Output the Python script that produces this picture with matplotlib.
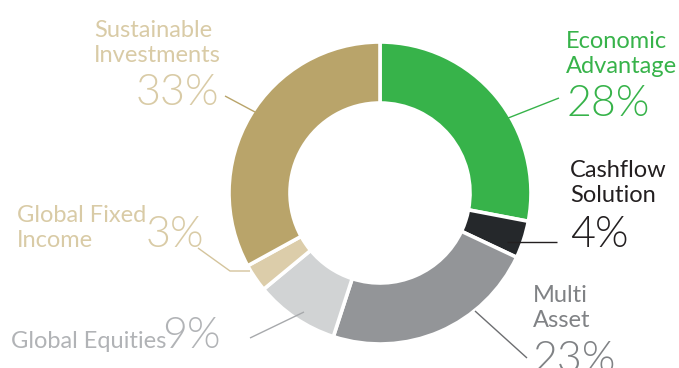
#!/usr/bin/env python3
import matplotlib
matplotlib.use("Agg")
import matplotlib.pyplot as plt

# ---------- data ----------
NAMES   = ["Economic\nAdvantage", "Cashflow\nSolution", "Multi\nAsset",
           "Global Equities", "Global Fixed\nIncome", "Sustainable\nInvestments"]
SHARES  = [28, 4, 23, 9, 3, 33]          # percent, clockwise from 12 o'clock
COLORS  = ["#37b34a", "#25282b", "#939598", "#d1d3d4", "#dccdaa", "#b9a46a"]
TXT_COL = ["#37b34a", "#231f20", "#808285", "#b1b3b6", "#d9cba6", "#d9cba6"]
LINE_COL = ["#37b34a", "#231f20", "#6d6e71", "#a7a9ac", "#d4c49c", "#b9a46a"]

W, H = 679, 368
CX, CY, R = 380, H - 193, 151
RING = 61
FONT = "Lato"
LINE_H = 29   # px between label lines

# label placement, image pixels: (name x, first-line baseline, pct x, pct baseline, name align)
LABELS = [
    (566, 44, 567, 116, "left"),
    (570, 173, 570, 247, "left"),
    (533, 298, 533, 372, "left"),
    (11, 348, 162, 348, "left"),
    (17, 218, 146, 247, "left"),
    (221, 33, 219, 105, "right"),
]
# leader lines, image pixels
LEADERS = [
    [(559, 98), (498, 122)],
    [(557, 242), (507, 242)],
    [(527, 358), (475, 311)],
    [(250, 338), (304, 312)],
    [(198, 248), (230, 271), (250, 271)],
    [(225, 96), (255, 112)],
]

def fy(y):
    return H - y

def main():
    fig = plt.figure(figsize=(W / 100, H / 100), dpi=100)
    ax = fig.add_axes([0, 0, 1, 1])
    ax.pie(SHARES, colors=COLORS, startangle=90, counterclock=False,
           center=(CX, CY), radius=R,
           wedgeprops=dict(width=RING, edgecolor="white", linewidth=2.6))
    ax.set_xlim(0, W); ax.set_ylim(0, H)
    ax.set_aspect("auto")
    ax.axis("off")

    small = dict(fontsize=17, family=FONT, linespacing=1.22)
    big = dict(fontsize=31, family=FONT, fontweight=300)

    for name, pct, col, lc, (nx, yb, px, yp, ha), pts in zip(
            NAMES, SHARES, TXT_COL, LINE_COL, LABELS, LEADERS):
        nlines = name.count("\n")
        # baseline alignment of a multi-line text refers to its last line
        ax.text(nx, fy(yb + LINE_H * nlines), name, ha=ha, va="baseline",
                color=col, multialignment="left", **small)
        ax.text(px, fy(yp), f"{pct}%", ha=ha, va="baseline", color=col, **big)
        xs = [p[0] for p in pts]; ys = [fy(p[1]) for p in pts]
        ax.plot(xs, ys, color=lc, lw=1.0, solid_capstyle="butt")

    fig.savefig("out.png", dpi=100)

if __name__ == "__main__":
    main()
